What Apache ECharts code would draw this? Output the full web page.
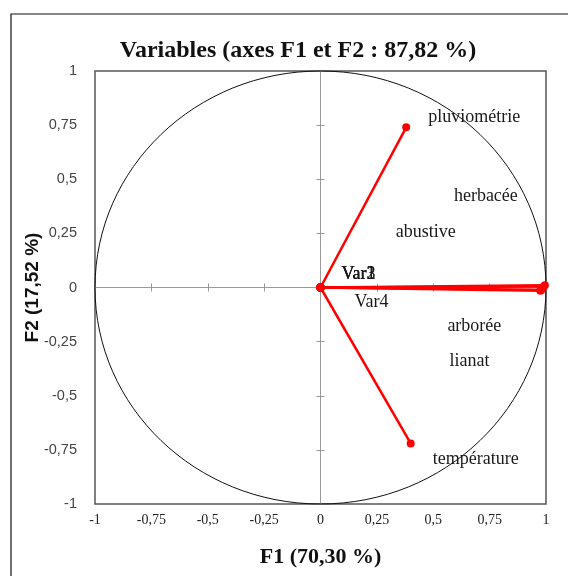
<!DOCTYPE html>
<html>
<head>
<meta charset="utf-8">
<script src="https://cdn.jsdelivr.net/npm/echarts@6/dist/echarts.min.js"></script>
<style>html,body{margin:0;padding:0;background:#fff;}#c{width:568px;height:576px;}</style>
</head>
<body>
<div id="c"></div>
<script>
const variables = ['pluviométrie','herbacée','abustive','arborée','lianat','température','Var1','Var2','Var3','Var4'];
const f1Values = [0.38, 0.995, 0.99, 0.975, 0.98, 0.40, 0, 0, 0, 0];
const f2Values = [0.74, 0.01, 0.005, -0.015, -0.01, -0.72, 0, 0, 0, 0];
const tickValues = [-1, -0.75, -0.5, -0.25, 0, 0.25, 0.5, 0.75, 1];
const titleText = 'Variables (axes F1 et F2 : 87,82 %)';
const xName = 'F1 (70,30 %)';
const yName = 'F2 (17,52 %)';

// label offsets in pixels (styling only)
const labelOffsets = [[68,-10],[-59,-89],[-118,-54],[-66,36],[-72,72],[65,16],[38,-13],[38,-13],[38,-13],[51,15]];

const fmt = v => String(v).replace('.', ',');
const serif = 'Liberation Serif, Times New Roman, serif';
const sans = 'Liberation Sans, Arial, sans-serif';

const chart = echarts.init(document.getElementById('c'), null, {renderer:'canvas'});

const baseAxis = {type:'value', min:-1, max:1, interval:0.25, splitLine:{show:false}};

const series = variables.map((name, i) => ({
  type:'line',
  name: name,
  xAxisIndex:0, yAxisIndex:0,
  data:[[0,0], {value:[f1Values[i], f2Values[i]], label:{show:true, formatter:name, position:'inside', align:'center', verticalAlign:'middle', offset:labelOffsets[i], fontFamily:serif, fontSize:18, color:'#1a1a1a'}}],
  symbol:'circle', symbolSize:8, showSymbol:true,
  lineStyle:{color:'#ff0000', width:2.5},
  itemStyle:{color:'#ff0000'},
  z:5,
  label:{show:false},
  emphasis:{disabled:true},
  animation:false
}));

chart.setOption({
  animation:false,
  backgroundColor:'#fff',
  title:{text:titleText, left:293, textAlign:'center', top:34, textStyle:{fontFamily:serif, fontWeight:'bold', fontSize:24, color:'#111'}},
  grid:{left:95, top:71, width:451, height:433, show:true, borderColor:'#555', borderWidth:1.5, backgroundColor:'transparent'},
  xAxis:[
    Object.assign({}, baseAxis, {position:'bottom', axisLine:{show:false, onZero:false}, axisTick:{show:false},
      axisLabel:{formatter:fmt, fontFamily:serif, fontSize:14, color:'#222', margin:9},
      name:xName, nameLocation:'middle', nameGap:42, nameTextStyle:{fontFamily:serif, fontWeight:'bold', fontSize:22, color:'#111'}}),
    Object.assign({}, baseAxis, {axisLine:{show:true, onZero:true, onZeroAxisIndex:0, lineStyle:{color:'#999', width:1}}, axisTick:{show:true, inside:true, length:4, lineStyle:{color:'#999'}}, axisLabel:{show:false}}),
    Object.assign({}, baseAxis, {axisLine:{show:true, onZero:true, onZeroAxisIndex:0, lineStyle:{color:'#999', width:1}}, axisTick:{show:true, inside:false, length:4, lineStyle:{color:'#999'}}, axisLabel:{show:false}})
  ],
  yAxis:[
    Object.assign({}, baseAxis, {position:'left', axisLine:{show:false, onZero:false}, axisTick:{show:false},
      axisLabel:{formatter:fmt, fontFamily:sans, fontSize:14.5, color:'#444', margin:18}}),
    Object.assign({}, baseAxis, {axisLine:{show:true, onZero:true, onZeroAxisIndex:0, lineStyle:{color:'#999', width:1}}, axisTick:{show:true, inside:true, length:4, lineStyle:{color:'#999'}}, axisLabel:{show:false}}),
    Object.assign({}, baseAxis, {axisLine:{show:true, onZero:true, onZeroAxisIndex:0, lineStyle:{color:'#999', width:1}}, axisTick:{show:true, inside:false, length:4, lineStyle:{color:'#999'}}, axisLabel:{show:false}})
  ],
  series: series
});

const c0 = chart.convertToPixel({xAxisIndex:0, yAxisIndex:0}, [0,0]);
const c1 = chart.convertToPixel({xAxisIndex:0, yAxisIndex:0}, [1,1]);
chart.setOption({
  graphic:[
    {type:'ellipse', shape:{cx:c0[0], cy:c0[1], rx:Math.abs(c1[0]-c0[0]), ry:Math.abs(c1[1]-c0[1])}, style:{fill:null, stroke:'#111', lineWidth:1}, z:1, silent:true},
    {type:'rect', shape:{x:11, y:14, width:600, height:600}, style:{fill:null, stroke:'#111', lineWidth:1.2}, z:0, silent:true},
    {type:'text', x:33, y:c0[1], rotation:Math.PI/2, style:{text:yName, align:'center', verticalAlign:'middle', font:'bold 19px ' + sans, fill:'#111'}, z:10, silent:true}
  ]
});
</script>
</body>
</html>
